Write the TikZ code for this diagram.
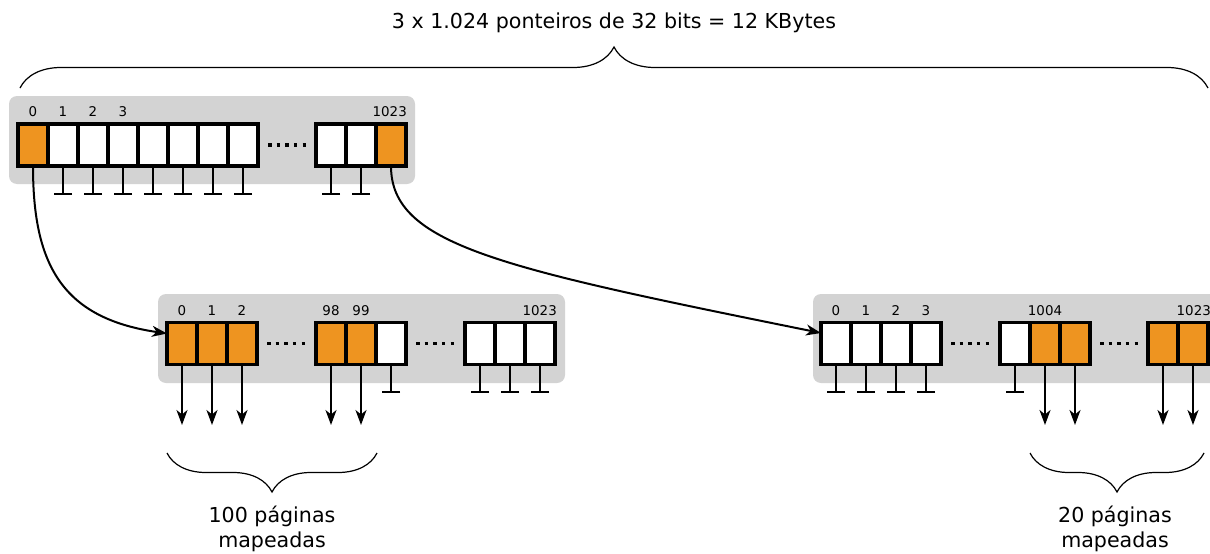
\documentclass[tikz,border=0pt]{standalone}
\usepackage{fontspec}
\setmainfont{DejaVu Sans}
\usepackage{xcolor}
\usepackage{tikz}
\usetikzlibrary{arrows.meta,positioning,decorations.pathreplacing}
\definecolor{pageorange}{HTML}{EE9420}
\definecolor{panelgray}{HTML}{D3D3D3}
\definecolor{ink}{HTML}{000000}
\tikzset{
  table diagram/.style={
    x=1pt,
    y=-1pt,
    line join=miter
  },
  panelbox/.style={
    fill=panelgray,
    rounded corners=8pt,
    inner sep=0pt
  },
  emptycell/.style={
    draw=ink,
    line width=3.2pt,
    fill=white,
    minimum width=30pt,
    minimum height=42pt,
    inner sep=0pt,
    outer sep=0pt
  },
  usedcell/.style={
    emptycell,
    fill=pageorange
  },
  idxlabel/.style={
    font=\fontsize{13.4}{16}\selectfont,
    inner sep=0pt,
    anchor=base
  },
  bigtext/.style={
    font=\fontsize{20.6}{24.5}\selectfont,
    align=center,
    inner sep=0pt
  },
  nullstem/.style={
    draw=ink,
    line width=2pt,
    -{Bar[width=18pt]}
  },
  pagearrow/.style={
    draw=ink,
    line width=2pt,
    -{Stealth[length=15pt,width=11pt,inset=4.5pt]}
  },
  gapdots/.style={
    draw=ink,
    line width=3.5pt,
    shorten <=10pt,
    shorten >=10pt,
    dash pattern=on 3.5pt off 5.125pt
  },
  spanbrace/.style={
    draw=ink,
    line width=1.2pt,
    decorate,
    decoration={brace, amplitude=#1}
  }
}

\begin{document}
\begin{tikzpicture}[table diagram]
\path[use as bounding box, clip] (0,0) rectangle (1210,554);

% panels
\node[panelbox, minimum width=406pt, minimum height=88pt] (rootpanel) at (212,140) {};
\node[panelbox, minimum width=407pt, minimum height=89pt] (lowpanel) at (361.5,338.5) {};
\node[panelbox, minimum width=407pt, minimum height=89pt] (highpanel) at (1016.5,338.5) {};

% root table
\node[usedcell] (root0) at (33,145) {};
\foreach \i in {1,...,7}
  \node[emptycell] (root\i) at (33+30*\i,145) {};
\node[emptycell] (root1021) at (331,145) {};
\node[emptycell] (root1022) at (361,145) {};
\node[usedcell] (root1023) at (391,145) {};
\node[idxlabel] (lblr0) at (33,116) {0};
\node[idxlabel] (lblr1) at (63,116) {1};
\node[idxlabel] (lblr2) at (93,116) {2};
\node[idxlabel] (lblr3) at (123,116) {3};
\node[idxlabel, anchor=base east] (lblr1023) at (407,116) {1023};
\draw[gapdots] (root7.east) -- (root1021.west);
\foreach \i in {1,...,7,1021,1022}
  \draw[nullstem] (root\i.south) -- +(0,29);

% low table
\node[usedcell] (low0) at (182,343.5) {};
\node[usedcell] (low1) at (212,343.5) {};
\node[usedcell] (low2) at (242,343.5) {};
\node[usedcell] (low98) at (331,343.5) {};
\node[usedcell] (low99) at (361,343.5) {};
\node[emptycell] (low100) at (391,343.5) {};
\node[emptycell] (low1021) at (480,343.5) {};
\node[emptycell] (low1022) at (510,343.5) {};
\node[emptycell] (low1023) at (540,343.5) {};
\node[idxlabel] (lbll0) at (182,315.5) {0};
\node[idxlabel] (lbll1) at (212,315.5) {1};
\node[idxlabel] (lbll2) at (242,315.5) {2};
\node[idxlabel] (lbll98) at (331,315.5) {98};
\node[idxlabel] (lbll99) at (361,315.5) {99};
\node[idxlabel, anchor=base east] (lbll1023) at (557,315.5) {1023};
\draw[gapdots] (low2.east) -- (low98.west);
\draw[gapdots] (low100.east) -- (low1021.west);
\foreach \i in {0,1,2,98,99}
  \draw[pagearrow] (low\i.south) -- +(0,60.5);
\foreach \i in {100,1021,1022,1023}
  \draw[nullstem] (low\i.south) -- +(0,28.5);

% high table
\node[emptycell] (high0) at (836,343.5) {};
\node[emptycell] (high1) at (866,343.5) {};
\node[emptycell] (high2) at (896,343.5) {};
\node[emptycell] (high3) at (926,343.5) {};
\node[emptycell] (high1003) at (1015,343.5) {};
\node[usedcell] (high1004) at (1045,343.5) {};
\node[usedcell] (high1005) at (1075,343.5) {};
\node[usedcell] (high1022) at (1163,343.5) {};
\node[usedcell] (high1023) at (1193,343.5) {};
\node[idxlabel] (lblh0) at (836,315.5) {0};
\node[idxlabel] (lblh1) at (866,315.5) {1};
\node[idxlabel] (lblh2) at (896,315.5) {2};
\node[idxlabel] (lblh3) at (926,315.5) {3};
\node[idxlabel] (lblh1004) at (1045,315.5) {1004};
\node[idxlabel, anchor=base east] (lblh1023) at (1211,315.5) {1023};
\draw[gapdots] (high3.east) -- (high1003.west);
\draw[gapdots] (high1005.east) -- (high1022.west);
\foreach \i in {1004,1005,1022,1023}
  \draw[pagearrow] (high\i.south) -- +(0,60.5);
\foreach \i in {0,1,2,3,1003}
  \draw[nullstem] (high\i.south) -- +(0,28.5);

% links between tables
\draw[pagearrow] (root0.south) .. controls (33,262) and (60,318) .. ([yshift=10pt]low0.west);
\draw[pagearrow] (root1023.south) .. controls (391,245) and (500,268) .. ([yshift=10.5pt]high0.west);

% braces and captions
\coordinate (topL) at (20,88);
\coordinate (topR) at (1208,88);
\coordinate (lowL) at (167,453);
\coordinate (lowR) at (377,453);
\coordinate (highL) at (1030,453);
\coordinate (highR) at (1204,453);
\draw[spanbrace=41pt] (topL) -- (topR);
\draw[spanbrace=39pt] (lowR) -- (lowL);
\draw[spanbrace=39pt] (highR) -- (highL);
\node[bigtext, anchor=base] (sizetext) at (614,28) {3 x 1.024 ponteiros de 32 bits = 12 KBytes};
\node[bigtext, anchor=base] (lowtext) at (272,547) {100 páginas\\mapeadas};
\node[bigtext, anchor=base] (hightext) at (1115,547) {20 páginas\\mapeadas};
\end{tikzpicture}
\end{document}
